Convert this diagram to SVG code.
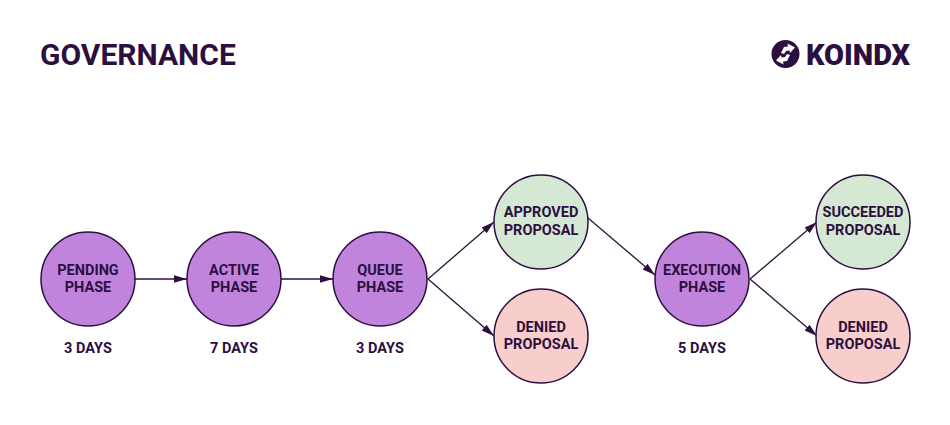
<svg xmlns="http://www.w3.org/2000/svg" width="950" height="425" viewBox="0 0 950 425">
<style>
text{font-family:Roboto,"Liberation Sans",sans-serif;font-weight:700;fill:#2d0f3f;text-anchor:middle}
.l{font-size:14.5px}
.c{stroke:#2d0f3f;stroke-width:1.5}
.e{stroke:#2d0f3f;stroke-width:1.3;fill:none;marker-end:url(#a)}
.p{fill:#c184dc}.g{fill:#d5e8d4}.r{fill:#f8cecc}
</style>
<defs><marker id="a" markerUnits="userSpaceOnUse" markerWidth="14" markerHeight="10" refX="13" refY="5" orient="auto"><path d="M0 1.200 L13 5 L0 8.800Z" fill="#2d0f3f"/></marker></defs>
<rect width="950" height="425" fill="#fff"/>
<text x="40" y="65" style="font-size:30px;text-anchor:start">GOVERNANCE</text>
<g id="logo">
<circle cx="785.5" cy="54" r="14" fill="#2d0f3f"/>
<path d="M781 53L784 47L788 46.500L787.500 43.500L795 47.500L790 53L789.500 50.500L786 51L784 54ZM790 55L787 61L783 61.500L783.500 64.500L776 60.500L781 55L781.500 57.500L785 57L787 54Z" fill="#fff"/>
<text x="858" y="65" style="font-size:29px;font-weight:900">KOINDX</text>
</g>
<g id="connectors">
<path class="e" d="M135 279H187"/>
<path class="e" d="M281 279H333"/>
<path class="e" d="M428 279L494 222"/>
<path class="e" d="M428 279L494 336"/>
<path class="e" d="M588 218L655 275"/>
<path class="e" d="M750 279L817 222"/>
<path class="e" d="M750 279L817 336"/>
</g>
<g id="pending"><circle class="c p" cx="88" cy="279" r="47"/><text class="l" x="88" y="274.500">PENDING</text><text class="l" x="88" y="291.500">PHASE</text><text class="l" x="88" y="353">3 DAYS</text></g>
<g id="active"><circle class="c p" cx="234" cy="279" r="47"/><text class="l" x="234" y="274.500">ACTIVE</text><text class="l" x="234" y="291.500">PHASE</text><text class="l" x="234" y="353">7 DAYS</text></g>
<g id="queue"><circle class="c p" cx="380" cy="279" r="47"/><text class="l" x="380" y="274.500">QUEUE</text><text class="l" x="380" y="291.500">PHASE</text><text class="l" x="380" y="353">3 DAYS</text></g>
<g id="approved"><circle class="c g" cx="541" cy="222" r="47"/><text class="l" x="541" y="217">APPROVED</text><text class="l" x="541" y="235">PROPOSAL</text></g>
<g id="denied1"><circle class="c r" cx="541" cy="336" r="47"/><text class="l" x="541" y="332">DENIED</text><text class="l" x="541" y="349">PROPOSAL</text></g>
<g id="execution"><circle class="c p" cx="702" cy="279" r="47"/><text class="l" x="702" y="274.500">EXECUTION</text><text class="l" x="702" y="291.500">PHASE</text><text class="l" x="702" y="353">5 DAYS</text></g>
<g id="succeeded"><circle class="c g" cx="863" cy="222" r="47"/><text class="l" x="863" y="217">SUCCEEDED</text><text class="l" x="863" y="235">PROPOSAL</text></g>
<g id="denied2"><circle class="c r" cx="863" cy="336" r="47"/><text class="l" x="863" y="332">DENIED</text><text class="l" x="863" y="349">PROPOSAL</text></g>
</svg>
